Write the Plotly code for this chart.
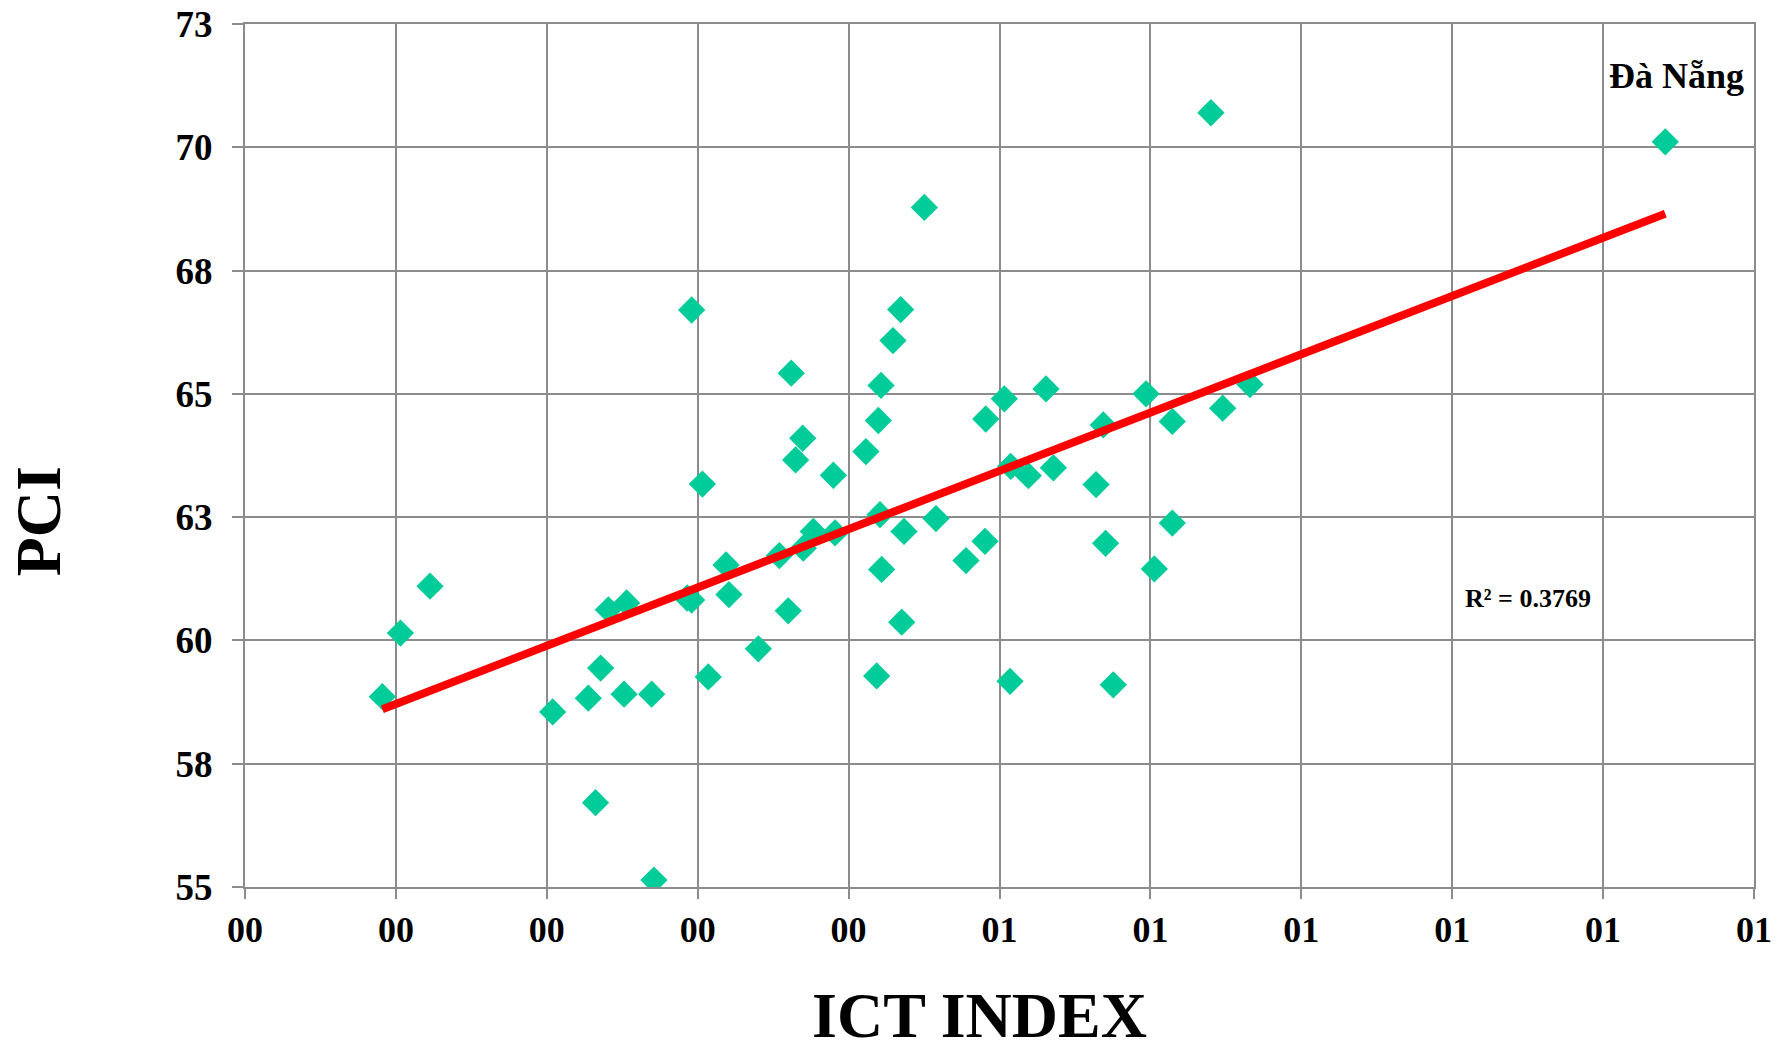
import numpy as np
import plotly.graph_objects as go

# ICT index (x) vs PCI (y), one point per province
ict_index = [0.091, 0.103, 0.1226, 0.2039, 0.2275, 0.2323, 0.2357, 0.2512, 0.2695, 0.271,
             0.2408, 0.2529, 0.293, 0.296, 0.296, 0.3031, 0.307, 0.3188, 0.3207, 0.3402,
             0.3541, 0.360, 0.362, 0.3649, 0.3696, 0.370, 0.3766, 0.3899, 0.3910, 0.4115,
             0.4186, 0.4197, 0.4208, 0.4215, 0.4219, 0.4294, 0.4345, 0.4352, 0.4367, 0.4502,
             0.4579, 0.4778, 0.4904, 0.4909, 0.5032, 0.507, 0.5074, 0.5191, 0.5308, 0.5357,
             0.5640, 0.5688, 0.5703, 0.5754, 0.5971, 0.6026, 0.6145, 0.6145, 0.6401, 0.6479,
             0.666, 0.9412]
pci = [58.86, 60.15, 61.10, 58.55, 58.83, 56.71, 59.44, 58.91, 58.91, 55.14,
       60.62, 60.76, 60.86, 60.82, 66.70, 63.17, 59.26, 61.53, 60.93, 59.83,
       61.72, 60.60, 65.42, 63.66, 64.10, 61.87, 62.21, 63.35, 62.18, 63.83,
       59.28, 64.46, 62.55, 65.17, 61.44, 66.08, 66.71, 60.37, 62.21, 68.78,
       62.47, 61.62, 62.01, 64.49, 64.90, 59.17, 63.53, 63.34, 65.10, 63.50,
       63.16, 64.37, 61.97, 59.10, 65.00, 61.45, 64.44, 62.38, 70.70, 64.71,
       65.19, 70.11]

x_ticks = [0.0, 0.1, 0.2, 0.3, 0.4, 0.5, 0.6, 0.7, 0.8, 0.9, 1.0]
x_tick_labels = ['00', '00', '00', '00', '00', '01', '01', '01', '01', '01', '01']
y_ticks = [55, 57.5, 60, 62.5, 65, 67.5, 70, 72.5]
y_tick_labels = ['55', '58', '60', '63', '65', '68', '70', '73']

highlight_name = 'Đà Nẵng'
r_squared_text = 'R² = 0.3769'

FONT = 'Liberation Serif, Times New Roman, serif'
GRID = '#8c8c8c'
MARKER_COLOR = '#00CC99'

x = np.array(ict_index)
y = np.array(pci)
slope, intercept = np.polyfit(x, y, 1)
line_x = np.array([x.min(), x.max()])
line_y = slope * line_x + intercept

fig = go.Figure()

fig.add_trace(go.Scatter(
    x=ict_index,
    y=pci,
    mode='markers',
    marker=dict(symbol='diamond', size=21, color=MARKER_COLOR, line=dict(width=0)),
    showlegend=False,
))

fig.add_trace(go.Scatter(
    x=line_x,
    y=line_y,
    mode='lines',
    line=dict(color='#ff0000', width=8),
    showlegend=False,
))

# label for the top-right point
top = int(np.argmax(x))
fig.add_annotation(x=ict_index[top] + 0.0075, y=pci[top] + 1.33, text=highlight_name,
                   showarrow=False, font=dict(family=FONT, size=36, color='black', weight='bold'))

fig.add_annotation(x=0.8504, y=60.86, text=r_squared_text, showarrow=False,
                   font=dict(family=FONT, size=26, color='black', weight='bold'))

fig.add_annotation(xref='paper', yref='paper', x=0.487, y=-0.149, text='ICT INDEX',
                   showarrow=False, xanchor='center', yanchor='middle',
                   font=dict(family=FONT, size=64, color='black', weight='bold'))

fig.add_annotation(xref='paper', yref='paper', x=-0.137, y=0.424, text='PCI', textangle=-90,
                   showarrow=False, xanchor='center', yanchor='middle',
                   font=dict(family=FONT, size=64, color='black', weight='bold'))

fig.update_layout(
    width=1782,
    height=1042,
    margin=dict(l=245, r=28, t=24, b=155),
    plot_bgcolor='white',
    paper_bgcolor='white',
    xaxis=dict(
        range=[0, 1],
        tickvals=x_ticks,
        ticktext=x_tick_labels,
        automargin=False,
        showgrid=True, gridcolor=GRID, gridwidth=2,
        showline=True, linecolor=GRID, linewidth=2, mirror=True,
        ticks='outside', ticklen=10, tickcolor=GRID, tickwidth=2,
        tickfont=dict(family=FONT, size=36, color='black', weight='bold'),
        zeroline=False,
    ),
    yaxis=dict(
        range=[55, 72.5],
        tickvals=y_ticks,
        ticktext=y_tick_labels,
        automargin=False,
        showgrid=True, gridcolor=GRID, gridwidth=2,
        showline=True, linecolor=GRID, linewidth=2, mirror=True,
        ticks='outside', ticklen=11, tickcolor=GRID, tickwidth=2,
        ticklabelstandoff=12,
        tickfont=dict(family=FONT, size=37, color='black', weight='bold'),
        zeroline=False,
    ),
)

fig.write_html('out.html', config={'displayModeBar': False},
               post_script="document.body.style.margin='0';")
